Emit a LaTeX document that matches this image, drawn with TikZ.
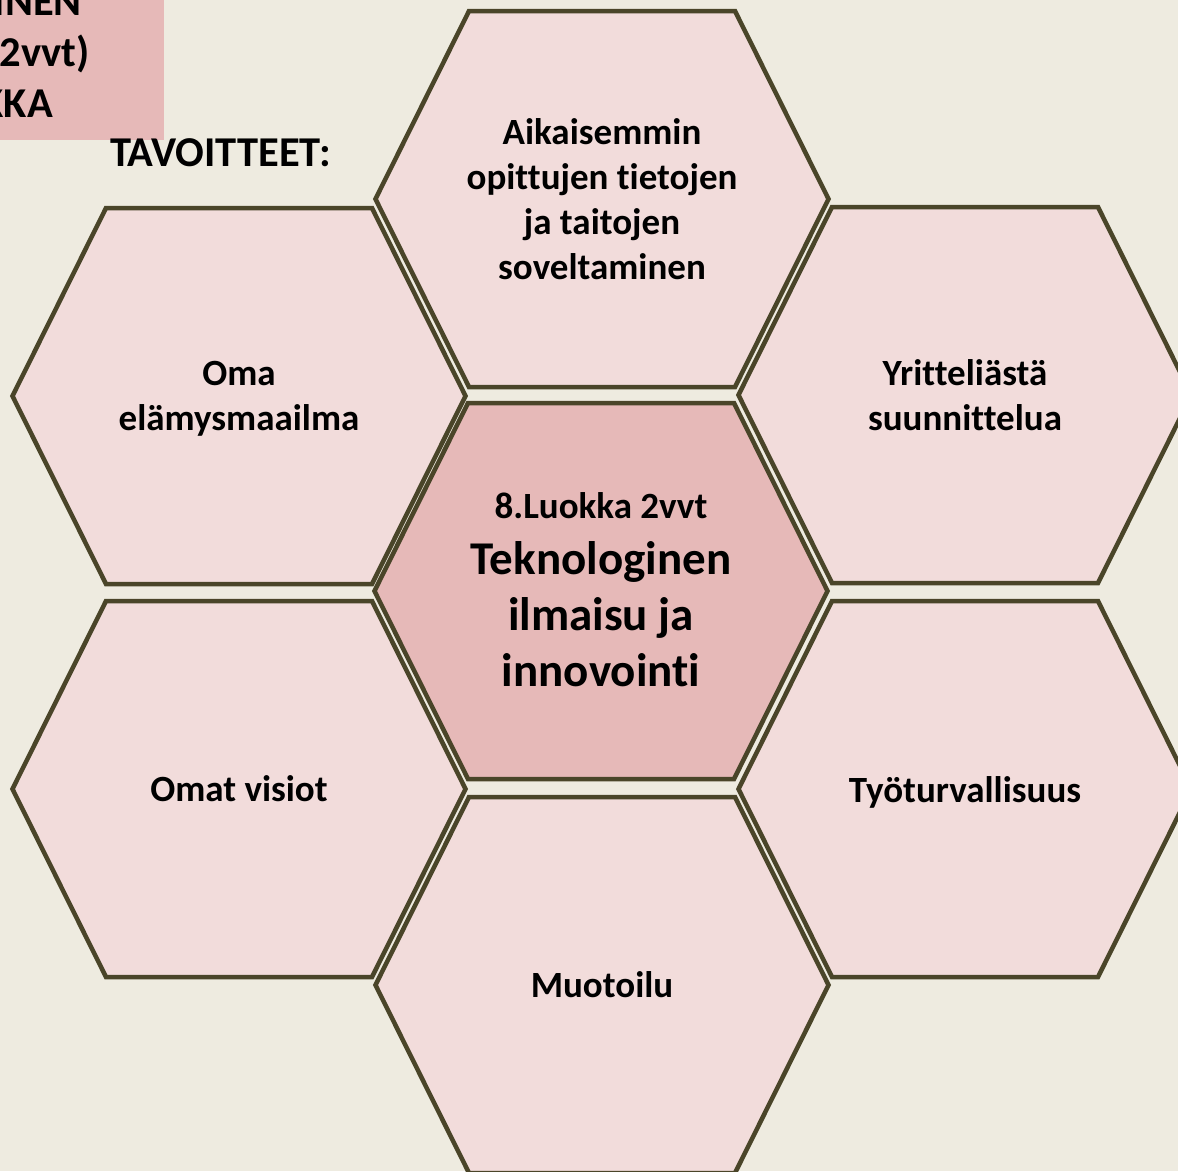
\documentclass[tikz,border=0pt]{standalone}
\usepackage{fontspec}
\setmainfont{Carlito}[Ligatures={NoCommon,NoContextual,NoRare}, RawFeature={-calt}]
\definecolor{bgc}{HTML}{EEEBE0}
\definecolor{lightpink}{HTML}{F2DCDB}
\definecolor{midpink}{HTML}{E6B9B8}
\definecolor{edgec}{HTML}{4A4529}
\newcommand{\hexpath}[2]{(#1-226.5,#2) -- (#1-133,#2-188) -- (#1+133,#2-188) -- (#1+226.5,#2) -- (#1+133,#2+188) -- (#1-133,#2+188) -- cycle}
\tikzset{
  hexcell/.style={draw=edgec, line width=4.5pt, line join=miter},
  lbl/.style={font=\bfseries\fontsize{37}{45}\selectfont, align=center, inner sep=0pt, text=black},
  ttl/.style={font=\bfseries\fontsize{42.5}{51}\selectfont, inner sep=0pt, text=black}
}
\begin{document}
\begin{tikzpicture}[x=1pt,y=-1pt]
\useasboundingbox (0,0) rectangle (1178,1171);
\fill[bgc] (0,0) rectangle (1178,1171);
\begin{scope}
\clip (0,0) rectangle (1178,1171);
% title box
\fill[midpink] (0,0) rectangle (164,140);
\node[ttl, anchor=base east] (title1) at (82,15) {INEN};
\node[ttl, anchor=base east] (title2) at (90,66) {(2vvt)};
\node[ttl, anchor=base east] (title3) at (53,117) {KKA};
\node[ttl, anchor=base west] (goals) at (110,166) {TAVOITTEET:};
% hexagons
\coordinate (hTop) at (602,199);
\coordinate (hLT) at (239,396);
\coordinate (hRT) at (965,395);
\coordinate (hC) at (601,591);
\coordinate (hLB) at (239,789);
\coordinate (hRB) at (965,789);
\coordinate (hBot) at (602,985);
\path[hexcell, fill=lightpink] \hexpath{602}{199};
\path[hexcell, fill=lightpink] \hexpath{239}{396};
\path[hexcell, fill=lightpink] \hexpath{965}{395};
\path[hexcell, fill=midpink] \hexpath{601}{591};
\path[hexcell, fill=lightpink] \hexpath{239}{789};
\path[hexcell, fill=lightpink] \hexpath{965}{789};
\path[hexcell, fill=lightpink] \hexpath{602}{985};
% labels
\node[lbl] (tTop) at (hTop) {Aikaisemmin\\opittujen tietojen\\ja taitojen\\soveltaminen};
\node[lbl, yshift=-3pt] (tLT) at (hLT) {Oma\\elämysmaailma};
\node[lbl] (tRT) at (hRT) {Yritteliästä\\suunnittelua};
\node[lbl, font=\bfseries\fontsize{47}{56}\selectfont] (tC) at (601,590) {{\fontsize{37}{45}\selectfont 8.Luokka 2vvt}\\Teknologinen\\ilmaisu ja\\innovointi};
\node[lbl] (tLB) at (hLB) {Omat visiot};
\node[lbl, yshift=-3pt] (tRB) at (hRB) {Työturvallisuus};
\node[lbl] (tBot) at (hBot) {Muotoilu};
\end{scope}
\end{tikzpicture}
\end{document}
